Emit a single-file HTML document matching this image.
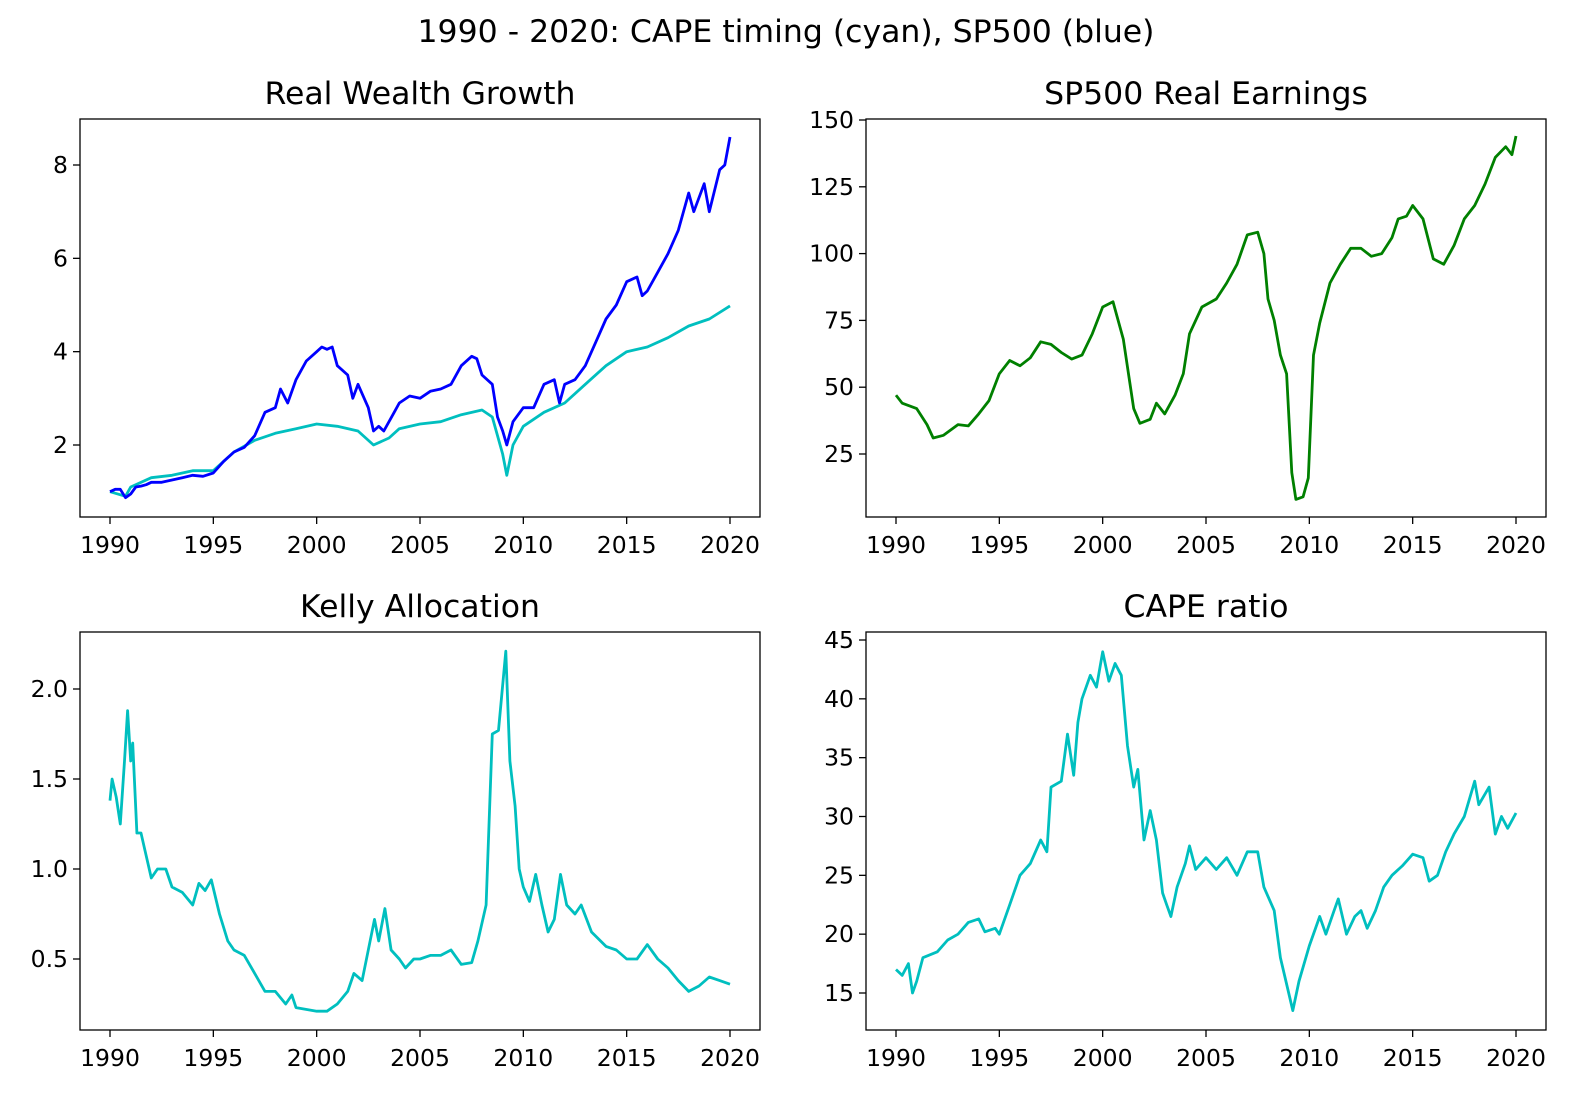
<!DOCTYPE html>
<html><head><meta charset="utf-8"><style>
html,body{margin:0;padding:0;background:#fff}
svg{display:block;font-family:"DejaVu Sans","Liberation Sans",sans-serif}
</style></head><body>
<svg id="fig" width="1569" height="1095" viewBox="0 0 1569 1095" xmlns="http://www.w3.org/2000/svg">
<rect width="1569" height="1095" fill="#fff"/>
<text x="786" y="42" font-size="31.5" text-anchor="middle">1990 - 2020: CAPE timing (cyan), SP500 (blue)</text>
</svg>
<script>
const yearTicks=[1990,1995,2000,2005,2010,2015,2020];
const wealthTicks=[2,4,6,8];
const earnTicks=[25,50,75,100,125,150];
const kellyTicks=[0.5,1.0,1.5,2.0];
const capeTicks=[15,20,25,30,35,40,45];

const spX=[1990,1990.25,1990.5,1990.75,1991,1991.25,1991.5,1991.75,1992,1992.5,1993,1993.5,1994,1994.5,1995,1995.5,1996,1996.5,1997,1997.5,1998,1998.25,1998.6,1999,1999.5,2000,2000.25,2000.5,2000.75,2001,2001.5,2001.75,2002,2002.5,2002.75,2003,2003.25,2003.75,2004,2004.5,2005,2005.5,2006,2006.5,2007,2007.5,2007.75,2008,2008.5,2008.75,2009,2009.2,2009.5,2010,2010.5,2011,2011.5,2011.75,2012,2012.5,2013,2013.5,2014,2014.5,2015,2015.5,2015.75,2016,2016.5,2017,2017.5,2018,2018.25,2018.75,2019,2019.5,2019.75,2020];
const spVals=[1.0,1.05,1.05,0.87,0.95,1.1,1.12,1.15,1.2,1.2,1.25,1.3,1.35,1.33,1.4,1.65,1.85,1.95,2.2,2.7,2.8,3.2,2.9,3.4,3.8,4.0,4.1,4.05,4.1,3.7,3.5,3.0,3.3,2.8,2.3,2.4,2.3,2.7,2.9,3.05,3.0,3.15,3.2,3.3,3.7,3.9,3.85,3.5,3.3,2.6,2.3,2.0,2.5,2.8,2.8,3.3,3.4,2.9,3.3,3.4,3.7,4.2,4.7,5.0,5.5,5.6,5.2,5.3,5.7,6.1,6.6,7.4,7.0,7.6,7.0,7.9,8.0,8.6];
const capeWX=[1990,1990.75,1991,1992,1993,1994,1995,1996,1997,1998,1999,2000,2001,2002,2002.75,2003.5,2004,2005,2006,2007,2008,2008.5,2009,2009.2,2009.5,2010,2011,2012,2013,2014,2015,2016,2017,2018,2019,2020];
const capeWVals=[1.0,0.9,1.1,1.3,1.35,1.45,1.45,1.85,2.1,2.25,2.35,2.45,2.4,2.3,2.0,2.15,2.35,2.45,2.5,2.65,2.75,2.6,1.8,1.35,2.0,2.4,2.7,2.9,3.3,3.7,4.0,4.1,4.3,4.55,4.7,4.98];
const earnX=[1990,1990.3,1991,1991.5,1991.8,1992.3,1993,1993.5,1994,1994.5,1995,1995.5,1996,1996.5,1997,1997.5,1998,1998.5,1999,1999.5,2000,2000.5,2001,2001.5,2001.8,2002.3,2002.6,2003,2003.5,2003.9,2004.2,2004.8,2005.5,2006,2006.5,2007,2007.5,2007.8,2008,2008.3,2008.6,2008.9,2009.15,2009.35,2009.7,2009.95,2010.2,2010.5,2011,2011.5,2012,2012.5,2013,2013.5,2014,2014.3,2014.7,2015,2015.5,2016,2016.5,2017,2017.5,2018,2018.5,2019,2019.5,2019.8,2020];
const earnVals=[47,44,42,36,31,32,36,35.5,40,45,55,60,58,61,67,66,63,60.5,62,70,80,82,68,42,36.5,38,44,40,47,55,70,80,83,89,96,107,108,100,83,75,62,55,18,8,9,16,62,74,89,96,102,102,99,100,106,113,114,118,113,98,96,103,113,118,126,136,140,137,144];
const kellyX=[1990,1990.1,1990.3,1990.5,1990.7,1990.85,1991,1991.1,1991.3,1991.5,1991.7,1992,1992.3,1992.7,1993,1993.5,1994,1994.3,1994.6,1994.9,1995.3,1995.7,1996,1996.5,1997,1997.5,1998,1998.5,1998.8,1999,2000,2000.5,2001,2001.5,2001.8,2002.2,2002.5,2002.8,2003,2003.3,2003.6,2004,2004.3,2004.7,2005,2005.5,2006,2006.5,2007,2007.5,2007.8,2008.2,2008.5,2008.8,2009.15,2009.35,2009.6,2009.8,2010,2010.3,2010.6,2010.9,2011.2,2011.5,2011.8,2012.1,2012.5,2012.8,2013.3,2014,2014.5,2015,2015.5,2016,2016.5,2017,2017.5,2018,2018.5,2019,2019.5,2020];
const kellyVals=[1.38,1.5,1.4,1.25,1.6,1.88,1.6,1.7,1.2,1.2,1.1,0.95,1.0,1.0,0.9,0.87,0.8,0.92,0.88,0.94,0.75,0.6,0.55,0.52,0.42,0.32,0.32,0.25,0.3,0.23,0.21,0.21,0.25,0.32,0.42,0.38,0.55,0.72,0.6,0.78,0.55,0.5,0.45,0.5,0.5,0.52,0.52,0.55,0.47,0.48,0.6,0.8,1.75,1.77,2.21,1.6,1.35,1.0,0.9,0.82,0.97,0.8,0.65,0.72,0.97,0.8,0.75,0.8,0.65,0.57,0.55,0.5,0.5,0.58,0.5,0.45,0.38,0.32,0.35,0.4,0.38,0.36];
const capeX=[1990,1990.3,1990.6,1990.8,1991,1991.3,1992,1992.5,1993,1993.5,1994,1994.3,1994.8,1995,1995.5,1996,1996.5,1997,1997.3,1997.5,1998,1998.3,1998.6,1998.8,1999,1999.4,1999.7,2000,2000.3,2000.6,2000.9,2001.2,2001.5,2001.7,2002,2002.3,2002.6,2002.9,2003.1,2003.3,2003.6,2004,2004.2,2004.5,2005,2005.5,2006,2006.5,2007,2007.5,2007.8,2008.3,2008.6,2009,2009.2,2009.5,2010,2010.5,2010.8,2011.2,2011.4,2011.8,2012.2,2012.5,2012.8,2013.2,2013.6,2014,2014.5,2015,2015.5,2015.8,2016.2,2016.6,2017,2017.5,2018,2018.2,2018.7,2019,2019.3,2019.6,2020];
const capeVals=[17,16.5,17.5,15,16,18,18.5,19.5,20,21,21.3,20.2,20.5,20,22.5,25,26,28,27,32.5,33,37,33.5,38,40,42,41,44,41.5,43,42,36,32.5,34,28,30.5,28,23.5,22.5,21.5,24,26,27.5,25.5,26.5,25.5,26.5,25,27,27,24,22,18,15,13.5,16,19,21.5,20,22,23,20,21.5,22,20.5,22,24,25,25.8,26.8,26.5,24.5,25,27,28.5,30,33,31,32.5,28.5,30,29,30.3];

const NS="http://www.w3.org/2000/svg";
const fig=document.getElementById('fig');
function mk(tag,attrs,parent){const e=document.createElementNS(NS,tag);for(const k in attrs)e.setAttribute(k,attrs[k]);(parent||fig).appendChild(e);return e;}

function panel(opt){
  const g=mk('g',{});
  
  
  const L=opt.l,T=opt.t,W=680,H=398;
  const xs=v=>opt.x0+(v-1990)*(620/30);
  const ys=v=>opt.yA+(v-opt.vA)*(opt.yB-opt.yA)/(opt.vB-opt.vA);
  const t=mk('text',{x:L+W/2,y:T-15,'font-size':31.5,'text-anchor':'middle'},g);
  t.textContent=opt.title;
  
  
  for(const y of yearTicks){
    const x=xs(y);
    mk('line',{x1:x,x2:x,y1:T+H,y2:T+H+7,stroke:'#000','stroke-width':1.3},g);
    const tx=mk('text',{x:x,y:T+H+36,'font-size':23.5,'text-anchor':'middle'},g);
    tx.textContent=y;
    
    
  }
  for(const v of opt.ticks){
    const y=ys(v);
    mk('line',{x1:L-7,x2:L,y1:y,y2:y,stroke:'#000','stroke-width':1.3},g);
    const ty=mk('text',{x:L-12,y:y+8,'font-size':23.5,'text-anchor':'end'},g);
    ty.textContent=opt.fmt?opt.fmt(v):v;
    
    
  }
  for(const s of opt.series){
    const d=s.x.map((xv,i)=>(i?'L':'M')+xs(xv).toFixed(1)+','+ys(s.y[i]).toFixed(1)).join('');
    const p=mk('path',{d:d,fill:'none',stroke:s.c,'stroke-width':2.8,'stroke-linejoin':'round'},g);
    
    
  }
  const fr=mk('rect',{x:L,y:T,width:W,height:H,fill:'none',stroke:'#000','stroke-width':1.3},g);
  
  
}
panel({name:'real-wealth-growth-panel',title:'Real Wealth Growth',l:80,t:119,x0:110,ticks:wealthTicks,yA:445,vA:2,yB:165,vB:8,
  series:[{x:capeWX,y:capeWVals,c:'#00bfbf',n:'cape-timing-wealth-line'},{x:spX,y:spVals,c:'#0000ff',n:'sp500-wealth-line'}]});
panel({name:'sp500-real-earnings-panel',title:'SP500 Real Earnings',l:866,t:119,x0:896,ticks:earnTicks,yA:454,vA:25,yB:120,vB:150,
  series:[{x:earnX,y:earnVals,c:'#008000',n:'earnings-line'}]});
panel({name:'kelly-allocation-panel',title:'Kelly Allocation',l:80,t:632,x0:110,ticks:kellyTicks,yA:959,vA:0.5,yB:689,vB:2.0,fmt:v=>v.toFixed(1),
  series:[{x:kellyX,y:kellyVals,c:'#00bfbf',n:'kelly-line'}]});
panel({name:'cape-ratio-panel',title:'CAPE ratio',l:866,t:632,x0:896,ticks:capeTicks,yA:993,vA:15,yB:640,vB:45,
  series:[{x:capeX,y:capeVals,c:'#00bfbf',n:'cape-ratio-line'}]});
</script>
</body></html>
